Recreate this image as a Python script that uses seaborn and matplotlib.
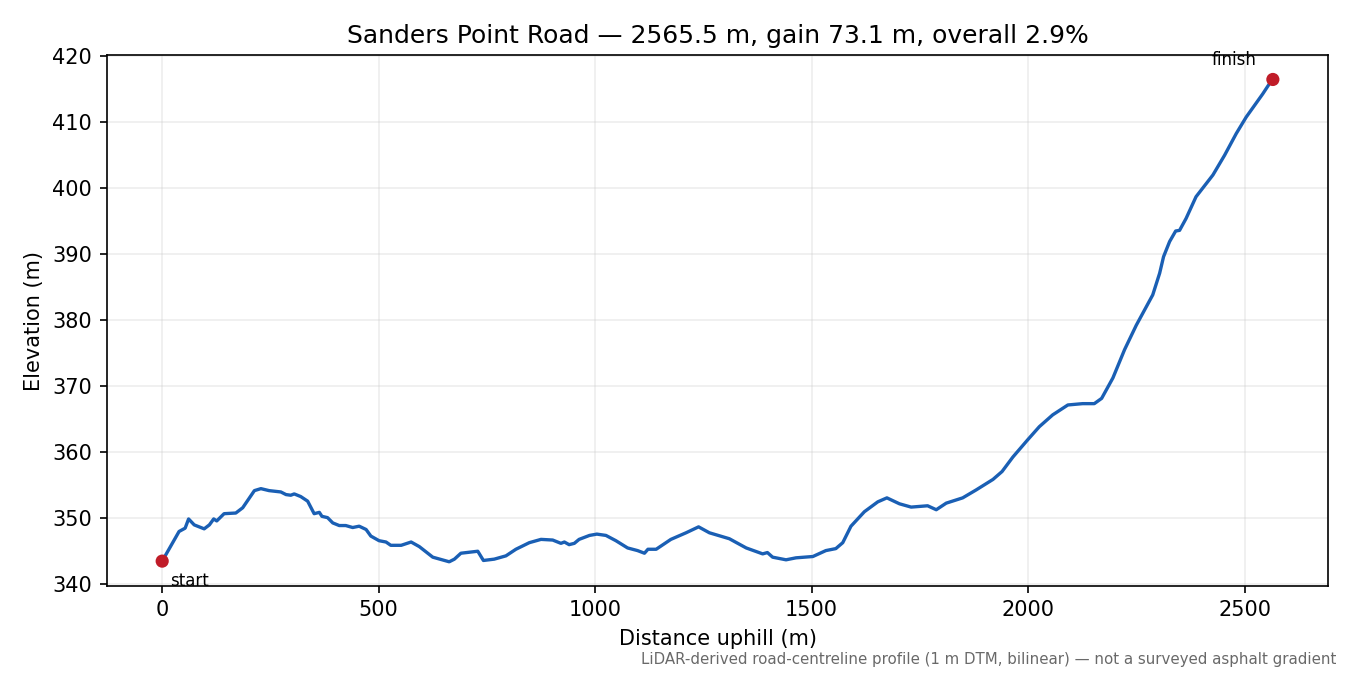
import numpy as np
import pandas as pd
import matplotlib
matplotlib.use("Agg")
import matplotlib.pyplot as plt
import seaborn as sns

# profile
distance_m = [0, 39, 53, 61, 74, 97, 109, 119, 126, 143, 170, 186, 213, 228, 247,
              274, 286, 297, 305, 320, 336, 351, 363, 369, 382, 394, 409, 424, 440,
              455, 471, 482, 501, 517, 528, 552, 575, 594, 625, 663, 675, 690, 729,
              742, 767, 794, 817, 848, 875, 902, 921, 929, 940, 952, 963, 987, 1004,
              1025, 1048, 1075, 1098, 1114, 1122, 1141, 1175, 1210, 1239, 1264, 1310,
              1349, 1387, 1398, 1410, 1441, 1464, 1503, 1533, 1556, 1572, 1591, 1622,
              1653, 1674, 1703, 1730, 1768, 1788, 1811, 1849, 1880, 1919, 1940, 1965,
              1999, 2026, 2057, 2092, 2126, 2153, 2170, 2196, 2223, 2250, 2288, 2304,
              2313, 2327, 2341, 2350, 2365, 2388, 2427, 2454, 2481, 2504, 2542, 2555,
              2565.5]
elevation_m = [343.4, 347.9, 348.4, 349.8, 348.9, 348.3, 348.9, 349.8, 349.5, 350.6,
               350.7, 351.5, 354.1, 354.4, 354.1, 353.9, 353.5, 353.4, 353.6, 353.2,
               352.5, 350.6, 350.8, 350.2, 350.0, 349.2, 348.8, 348.8, 348.5, 348.7,
               348.2, 347.2, 346.5, 346.3, 345.8, 345.8, 346.3, 345.6, 344.0, 343.3,
               343.7, 344.6, 344.9, 343.5, 343.7, 344.2, 345.2, 346.2, 346.7, 346.6,
               346.1, 346.3, 345.9, 346.1, 346.7, 347.3, 347.5, 347.3, 346.5, 345.4,
               345.0, 344.6, 345.2, 345.2, 346.7, 347.7, 348.6, 347.7, 346.8, 345.4,
               344.5, 344.7, 344.0, 343.6, 343.9, 344.1, 345.0, 345.3, 346.2, 348.7,
               350.9, 352.4, 353.0, 352.1, 351.6, 351.8, 351.2, 352.2, 353.0, 354.2,
               355.8, 357.0, 359.2, 361.8, 363.8, 365.6, 367.1, 367.3, 367.3, 368.1,
               371.2, 375.5, 379.2, 383.8, 387.1, 389.6, 391.9, 393.5, 393.6, 395.4,
               398.7, 402.0, 405.0, 408.3, 410.8, 414.3, 415.6, 416.5]

ends = ["start", "finish"]

df = pd.DataFrame({"dist": distance_m, "elev": elevation_m})
df_ends = df.iloc[[0, -1]].assign(label=ends)

sns.set_style("ticks")
plt.rcParams.update({"text.color": "black", "axes.labelcolor": "black",
                     "xtick.color": "black", "ytick.color": "black"})
fig, ax = plt.subplots(figsize=(9, 4.5), dpi=150)
fig.subplots_adjust(left=0.079, right=0.984, top=0.918, bottom=0.132)

sns.lineplot(data=df, x="dist", y="elev", color="#1a5fb4", linewidth=1.6, ax=ax)
sns.scatterplot(data=df_ends, x="dist", y="elev", color="#c01c28", s=40,
                edgecolor="none", zorder=3, ax=ax)

for _, r in df_ends.iterrows():
    if r["label"] == "start":
        ax.annotate(r["label"], (r["dist"], r["elev"]), xytext=(4, -5),
                    textcoords="offset points", ha="left", va="top", fontsize=8)
    else:
        ax.annotate(r["label"], (r["dist"], r["elev"]), xytext=(-8, 5),
                    textcoords="offset points", ha="right", va="bottom", fontsize=8)

for s in ax.spines.values():
    s.set_visible(True)
    s.set_color("black")
ax.grid(True, alpha=0.35)
ax.margins(0.05)

ax.set_title("Sanders Point Road \u2014 2565.5 m, gain 73.1 m, overall 2.9%",
             fontsize=12)
ax.set_xlabel("Distance uphill (m)")
ax.set_ylabel("Elevation (m)")
fig.text(0.99, 0.012, "LiDAR-derived road-centreline profile (1 m DTM, bilinear) "
         "\u2014 not a surveyed asphalt gradient", ha="right", va="bottom",
         fontsize=7.2, color="dimgray")

fig.savefig("out.png", dpi=150)
